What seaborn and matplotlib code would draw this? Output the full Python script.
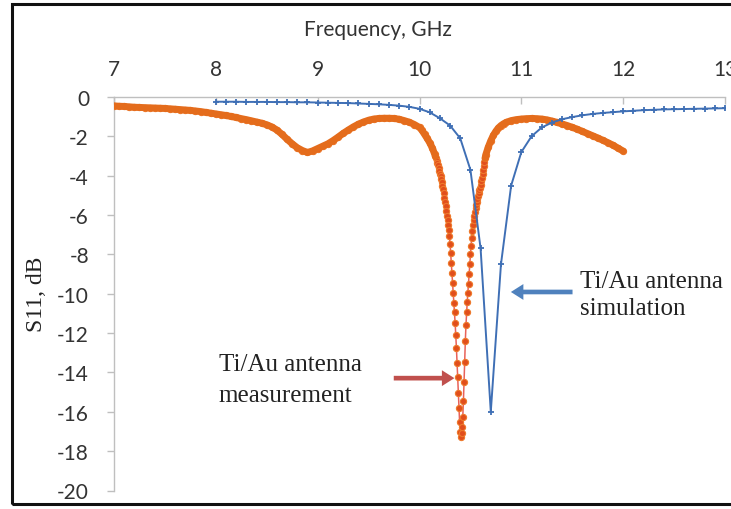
import matplotlib
matplotlib.use("Agg")
import matplotlib.pyplot as plt
import seaborn as sns
import pandas as pd
from matplotlib.patches import Rectangle, FancyArrowPatch

# ---------------- data ----------------
x_ticks = [7, 8, 9, 10, 11, 12, 13]
y_ticks = [0, -2, -4, -6, -8, -10, -12, -14, -16, -18, -20]

sim_freq = [8.0, 8.1, 8.2, 8.3, 8.4, 8.5, 8.6, 8.7, 8.8, 8.9,
            9.0, 9.1, 9.2, 9.3, 9.4, 9.5, 9.6, 9.7, 9.8, 9.9,
            10.0, 10.1, 10.2, 10.3, 10.4, 10.5, 10.6, 10.7, 10.8, 10.9,
            11.0, 11.1, 11.2, 11.3, 11.4, 11.5, 11.6, 11.7, 11.8, 11.9,
            12.0, 12.1, 12.2, 12.3, 12.4, 12.5, 12.6, 12.7, 12.8, 12.9, 13.0]
sim_s11 = [-0.24, -0.24, -0.24, -0.25, -0.25, -0.25, -0.26, -0.26, -0.27, -0.27,
           -0.28, -0.29, -0.30, -0.31, -0.33, -0.35, -0.37, -0.40, -0.44, -0.50,
           -0.60, -0.78, -1.08, -1.45, -2.10, -3.70, -7.70, -16.00, -8.50, -4.50,
           -2.80, -2.00, -1.55, -1.30, -1.13, -1.02, -0.93, -0.86, -0.81, -0.77,
           -0.73, -0.70, -0.67, -0.65, -0.63, -0.62, -0.61, -0.60, -0.59, -0.58, -0.57]

meas_freq = [7.00, 7.05, 7.10, 7.15, 7.20, 7.25, 7.30, 7.35, 7.40, 7.45,
             7.50, 7.55, 7.60, 7.65, 7.70, 7.75, 7.80, 7.85, 7.90, 7.95,
             8.00, 8.05, 8.10, 8.15, 8.20, 8.25, 8.30, 8.35, 8.40, 8.45,
             8.50, 8.55, 8.60, 8.65, 8.70, 8.75, 8.80, 8.85, 8.90, 8.95,
             9.00, 9.05, 9.10, 9.15, 9.20, 9.25, 9.30, 9.35, 9.40, 9.45,
             9.50, 9.55, 9.60, 9.65, 9.70, 9.75, 9.80, 9.85, 9.90, 9.95,
             10.00, 10.025, 10.05, 10.075, 10.10, 10.125,
             10.15, 10.15625, 10.1625, 10.16875, 10.175, 10.18125, 10.1875, 10.19375,
             10.2, 10.20625, 10.2125, 10.21875, 10.225, 10.23125, 10.2375, 10.24375,
             10.25, 10.25625, 10.2625, 10.26875, 10.275, 10.28125, 10.2875, 10.29375,
             10.3, 10.30625, 10.3125, 10.31875, 10.325, 10.33125, 10.3375, 10.34375,
             10.35, 10.35625, 10.3625, 10.36875, 10.375, 10.38125, 10.3875, 10.39375,
             10.4, 10.40625, 10.4125, 10.41875, 10.425, 10.43125, 10.4375, 10.44375,
             10.45, 10.45625, 10.4625, 10.46875, 10.475, 10.48125, 10.4875, 10.49375,
             10.5, 10.50625, 10.5125, 10.51875, 10.525, 10.53125, 10.5375, 10.54375,
             10.55, 10.55625, 10.5625, 10.56875, 10.575, 10.58125, 10.5875, 10.59375,
             10.6, 10.60625, 10.6125, 10.61875, 10.625, 10.63125, 10.6375, 10.64375,
             10.65,
             10.675, 10.70, 10.725, 10.75, 10.775, 10.80, 10.825, 10.85,
             10.90, 10.95, 11.00, 11.05, 11.10, 11.15, 11.20, 11.25, 11.30, 11.35,
             11.40, 11.45, 11.50, 11.55, 11.60, 11.65, 11.70, 11.75, 11.80, 11.85,
             11.90, 11.95, 12.00]
meas_s11 = [-0.45, -0.47, -0.48, -0.50, -0.52, -0.53, -0.54, -0.55, -0.56, -0.57,
            -0.58, -0.60, -0.62, -0.64, -0.66, -0.68, -0.71, -0.74, -0.78, -0.82,
            -0.86, -0.90, -0.94, -0.99, -1.04, -1.10, -1.15, -1.21, -1.27, -1.33,
            -1.41, -1.52, -1.68, -1.90, -2.15, -2.38, -2.58, -2.72, -2.82, -2.74,
            -2.62, -2.50, -2.38, -2.22, -2.04, -1.85, -1.68, -1.52, -1.38, -1.27,
            -1.18, -1.12, -1.09, -1.08, -1.08, -1.09, -1.13, -1.20, -1.28, -1.40,
            -1.55, -1.70, -1.90, -2.10, -2.32, -2.58,
            -2.92, -3.02, -3.12, -3.23, -3.35, -3.48, -3.62, -3.76,
            -3.90, -4.04, -4.19, -4.34, -4.51, -4.70, -4.90, -5.11,
            -5.33, -5.56, -5.80, -6.04, -6.27, -6.50, -6.76, -7.06,
            -7.45, -7.95, -8.45, -8.95, -9.45, -9.95, -10.45, -10.95,
            -11.50, -12.10, -12.75, -13.50, -14.25, -15.05, -15.80, -16.50,
            -17.05, -17.30, -17.10, -16.75, -16.25, -15.45, -14.50, -13.45,
            -12.40, -11.60, -10.95, -10.40, -9.95, -9.50, -9.00, -8.50,
            -8.00, -7.55, -7.15, -6.80, -6.50, -6.25, -6.05, -5.85,
            -5.65, -5.50, -5.35, -5.20, -5.05, -4.90, -4.75, -4.60,
            -4.45, -4.28, -4.10, -3.90, -3.70, -3.50, -3.30, -3.12,
            -2.95,
            -2.55, -2.22, -1.95, -1.74, -1.57, -1.45, -1.36, -1.29,
            -1.20, -1.15, -1.12, -1.10, -1.09, -1.10, -1.12, -1.16, -1.22, -1.29,
            -1.37, -1.45, -1.54, -1.64, -1.75, -1.86, -1.97, -2.08, -2.20, -2.32,
            -2.45, -2.60, -2.75]

x_label = "Frequency, GHz"
y_label = "S11, dB"
sim_text = ["Ti/Au antenna", "simulation"]
meas_text = ["Ti/Au antenna", "measurement"]

# ---------------- style ----------------
sns.set_style("white")
plt.rcParams["font.family"] = ["Lato", "DejaVu Sans"]

W, H = 731, 510
fig = plt.figure(figsize=(W / 100, H / 100), dpi=100)
ax = fig.add_axes([114 / W, 1 - 491.5 / H, (725 - 114) / W, (491.5 - 98) / H])

sim_df = pd.DataFrame({"freq": sim_freq, "s11": sim_s11})
meas_df = pd.DataFrame({"freq": meas_freq, "s11": meas_s11})
left_flat = meas_df[meas_df["freq"] <= 10.16]
right_flat = meas_df[meas_df["freq"] >= 10.64]

ORANGE = "#E46C1C"
# thin connecting line through every measured point
sns.lineplot(data=meas_df, x="freq", y="s11", ax=ax, sort=False, errorbar=None,
             color="#E8625A", linewidth=1.1, zorder=3)
# markers
sns.scatterplot(data=meas_df, x="freq", y="s11", ax=ax, s=20, marker="o",
                color="#E14E1C", edgecolor="#EE7A2C", linewidth=0.8, zorder=3.2)
# slowly varying parts: markers overlap into a thick smooth band
for part in (left_flat, right_flat):
    sns.lineplot(data=part, x="freq", y="s11", ax=ax, sort=False, errorbar=None,
                 color=ORANGE, linewidth=5.0, solid_capstyle="round", zorder=3.4)
sns.lineplot(data=sim_df, x="freq", y="s11", ax=ax, sort=False, errorbar=None,
             color="#3F6FB5", linewidth=1.4, marker="+", markersize=5,
             markeredgewidth=1.3, markeredgecolor="#3F6FB5", zorder=4)

ax.set_xlim(7, 13)
ax.set_ylim(-20, 0)
ax.set_xticks(x_ticks)
ax.set_yticks(y_ticks)
ax.set_xticklabels([str(t) for t in x_ticks])
ax.set_yticklabels([str(t) for t in y_ticks])
ax.set_xlabel("")
ax.set_ylabel("")

ax.xaxis.tick_top()
for side in ["bottom", "right"]:
    ax.spines[side].set_visible(False)
for side in ["top", "left"]:
    ax.spines[side].set_visible(True)
    ax.spines[side].set_color("#BFBFBF")
    ax.spines[side].set_linewidth(1.0)

ax.tick_params(axis="x", direction="in", length=5, width=1, color="#BFBFBF",
               pad=13, labelsize=15, labelcolor="#333333", top=True, bottom=False)
ax.tick_params(axis="y", direction="out", length=5, width=1, color="#BFBFBF",
               pad=13, labelsize=15, labelcolor="#333333", left=True)

fig.text(378 / W, 1 - 30 / H, x_label, ha="center", va="center",
         fontsize=15, color="#333333")
fig.text(37 / W, 1 - 294 / H, y_label, ha="center", va="center", rotation=90,
         fontsize=17, color="#222222", family=["Liberation Serif", "DejaVu Serif"])

# annotations
serif = ["Liberation Serif", "DejaVu Serif"]
ax.text(11.58, -9.35, sim_text[0], ha="left", va="center", fontsize=18,
        color="#222222", family=serif)
ax.text(11.58, -10.73, sim_text[1], ha="left", va="center", fontsize=18,
        color="#222222", family=serif)
ax.text(8.03, -13.57, meas_text[0], ha="left", va="center", fontsize=18,
        color="#222222", family=serif)
ax.text(8.03, -15.15, meas_text[1], ha="left", va="center", fontsize=18,
        color="#222222", family=serif)

arrow_style = "simple,head_length=0.75,head_width=0.95,tail_width=0.28"
ax.add_patch(FancyArrowPatch((11.53, -9.91), (10.87, -9.91), arrowstyle=arrow_style,
                             mutation_scale=12, color="#4F81BD", lw=0, zorder=5))
ax.add_patch(FancyArrowPatch((9.72, -14.29), (10.37, -14.29), arrowstyle=arrow_style,
                             mutation_scale=12, color="#C0504D", lw=0, zorder=5))

# outer frame
fig.patches.append(Rectangle((12 / W, 5 / H), 2.0, (505 - 5) / H,
                             transform=fig.transFigure, fill=False,
                             lw=2.2, ec="#111111"))

fig.savefig("out.png", dpi=100)
